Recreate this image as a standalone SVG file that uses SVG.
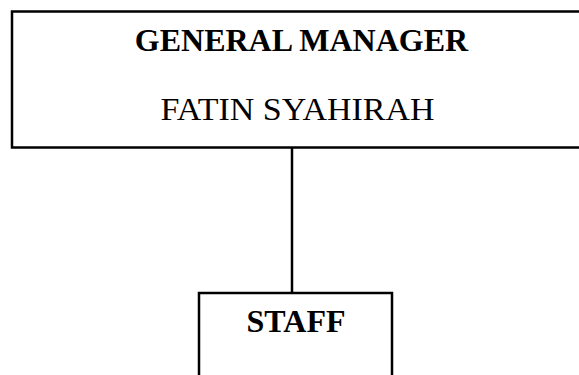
<svg xmlns="http://www.w3.org/2000/svg" width="579" height="375" viewBox="0 0 579 375">
<style>
.box{fill:#fff;stroke:#000;stroke-width:2.5}
.t{font-family:"Liberation Serif","Times New Roman",serif;font-size:32px;fill:#000;text-anchor:middle}
.b{font-weight:bold}
.conn{stroke:#000;stroke-width:2.5;fill:none}
</style>
<rect width="579" height="375" fill="#fff"/>
<g id="connectors">
<line class="conn" x1="292" y1="147.5" x2="292" y2="293"/>
</g>
<g id="gm">
<rect class="box" x="12" y="11.5" width="572" height="136"/>
<text class="t b" x="301.5" y="51">GENERAL MANAGER</text>
<text class="t" x="297.5" y="120" textLength="274" lengthAdjust="spacingAndGlyphs">FATIN SYAHIRAH</text>
</g>
<g id="staff">
<rect class="box" x="199" y="293" width="193" height="100"/>
<text class="t b" x="296" y="332">STAFF</text>
</g>
</svg>
